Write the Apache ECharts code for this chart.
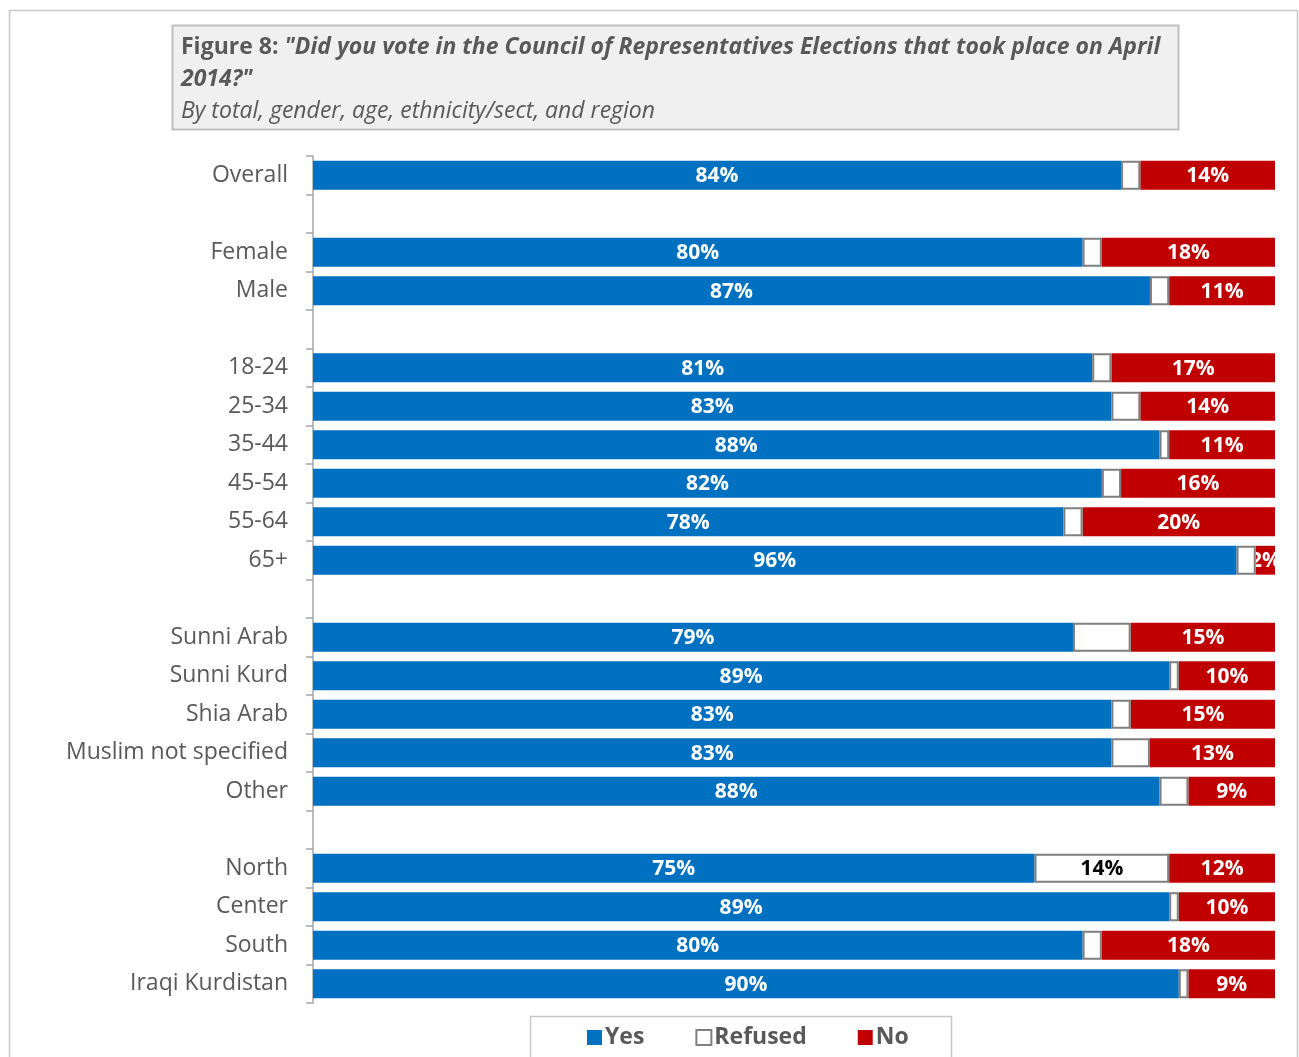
<!DOCTYPE html>
<html>
<head>
<meta charset="utf-8">
<script src="https://cdn.jsdelivr.net/npm/echarts@6/dist/echarts.min.js"></script>
<style>
  html, body { margin: 0; padding: 0; background: #ffffff; }
  #chart { width: 1299px; height: 1057px; }
</style>
</head>
<body>
<div id="chart"></div>
<script>
// Row labels (blank strings are spacer rows between groups)
const categories = [
  'Overall', ' ',
  'Female', 'Male', '  ',
  '18-24', '25-34', '35-44', '45-54', '55-64', '65+', '   ',
  'Sunni Arab', 'Sunni Kurd', 'Shia Arab', 'Muslim not specified', 'Other', '    ',
  'North', 'Center', 'South', 'Iraqi Kurdistan'
];

// Percent of respondents per answer
const yesValues = [
  84, null,
  80, 87, null,
  81, 83, 88, 82, 78, 96, null,
  79, 89, 83, 83, 88, null,
  75, 89, 80, 90
];
const refusedValues = [
  2, null,
  2, 2, null,
  2, 3, 1, 2, 2, 2, null,
  6, 1, 2, 4, 3, null,
  14, 1, 2, 1
];
const noValues = [
  14, null,
  18, 11, null,
  17, 14, 11, 16, 20, 2, null,
  15, 10, 15, 13, 9, null,
  12, 10, 18, 9
];

const FONT = 'Open Sans';
const GREY_TEXT = '#595959';

const chart = echarts.init(document.getElementById('chart'), null, { renderer: 'canvas' });

function pct(p) { return p.value == null ? '' : p.value + '%'; }

const option = {
  backgroundColor: '#ffffff',
  animation: false,
  textStyle: { fontFamily: FONT },
  graphic: [
    { // outer frame
      type: 'rect', silent: true, z: 0,
      shape: { x: 9.5, y: 10.5, width: 1288, height: 1060 },
      style: { fill: 'none', stroke: '#C8C8C8', lineWidth: 1.5 }
    },
    { // title box
      type: 'rect', silent: true, z: 1,
      shape: { x: 172.5, y: 25.5, width: 1006, height: 104 },
      style: { fill: '#F0F0F0', stroke: '#BFBFBF', lineWidth: 2 }
    },
    {
      type: 'text', silent: true, z: 2,
      x: 181, y: 31,
      style: {
        text: '{b|Figure 8: }{bi|"Did you vote in the Council of Representatives Elections that took place on April}\n{bi|2014?"}\n{i|By total, gender, age, ethnicity/sect, and region}',
        fill: GREY_TEXT,
        fontFamily: FONT,
        fontSize: 23,
        lineHeight: 32,
        rich: {
          b: { fontFamily: FONT, fontSize: 23, fontWeight: 'bold', fill: GREY_TEXT, lineHeight: 32 },
          bi: { fontFamily: FONT, fontSize: 23, fontWeight: 'bold', fontStyle: 'italic', fill: GREY_TEXT, lineHeight: 32 },
          i: { fontFamily: FONT, fontSize: 23, fontStyle: 'italic', fill: GREY_TEXT, lineHeight: 32 }
        }
      }
    },
    { // legend box
      type: 'rect', silent: true, z: 1,
      shape: { x: 530.5, y: 1016.5, width: 421, height: 50 },
      style: { fill: '#ffffff', stroke: '#C8C8C8', lineWidth: 1.5 }
    }
  ],
  legend: {
    left: 582,
    top: 1021,
    itemWidth: 15,
    itemHeight: 15,
    itemGap: 51,
    icon: 'rect',
    z: 5,
    textStyle: { fontFamily: FONT, fontSize: 23, fontWeight: 'bold', color: GREY_TEXT, padding: [0, 0, 0, -2] },
    data: ['Yes', 'Refused', 'No']
  },
  grid: {
    left: 313,
    right: 24,
    top: 156,
    bottom: 54,
    containLabel: false
  },
  xAxis: {
    type: 'value',
    min: 0,
    max: 100,
    show: false
  },
  yAxis: {
    type: 'category',
    inverse: true,
    data: categories,
    axisLine: { show: true, lineStyle: { color: '#A6A6A6', width: 1.5 } },
    axisTick: { show: true, length: 7, lineStyle: { color: '#A6A6A6', width: 1.5 } },
    axisLabel: {
      fontFamily: FONT,
      fontSize: 23,
      color: GREY_TEXT,
      margin: 25,
      padding: [4, 0, 0, 0]
    },
    splitLine: { show: false }
  },
  series: [
    {
      name: 'Yes',
      type: 'bar',
      stack: 'vote',
      barCategoryGap: '25%',
      z: 2,
      itemStyle: { color: '#0070C0' },
      label: {
        show: true, position: 'inside', formatter: pct,
        color: '#ffffff', fontFamily: FONT, fontSize: 21, fontWeight: 'bold', offset: [0, 1]
      },
      data: yesValues
    },
    {
      name: 'Refused',
      type: 'bar',
      stack: 'vote',
      z: 4,
      itemStyle: { color: '#ffffff', borderColor: '#7F7F7F', borderWidth: 2 },
      label: {
        show: true, position: 'inside',
        formatter: function (p) { return p.value >= 10 ? p.value + '%' : ''; },
        color: '#000000', fontFamily: FONT, fontSize: 21, fontWeight: 'bold', offset: [0, 1]
      },
      data: refusedValues
    },
    {
      name: 'No',
      type: 'bar',
      stack: 'vote',
      z: 3,
      itemStyle: { color: '#C00000' },
      label: {
        show: true, position: 'inside', formatter: pct,
        color: '#ffffff', fontFamily: FONT, fontSize: 21, fontWeight: 'bold', offset: [0, 1]
      },
      data: noValues
    }
  ]
};

chart.setOption(option);
</script>
</body>
</html>
